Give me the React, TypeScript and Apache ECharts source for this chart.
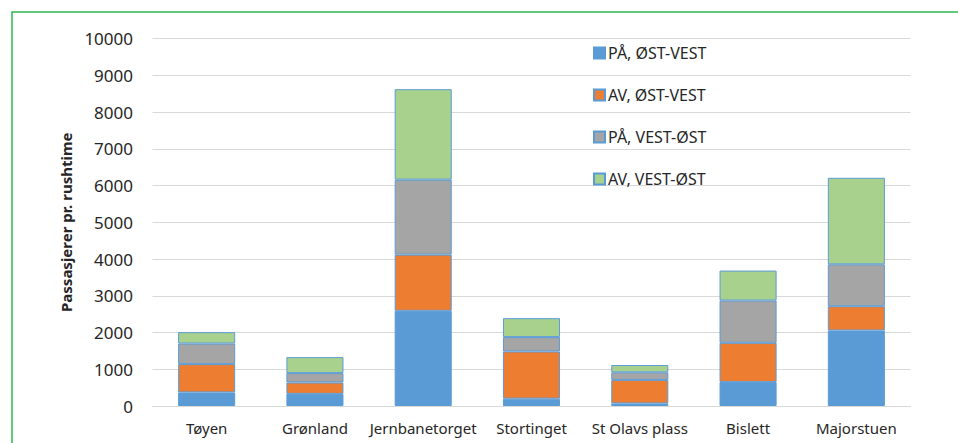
import React, { useEffect, useRef } from "react";
import * as echarts from "echarts";

const categories = ["Tøyen", "Grønland", "Jernbanetorget", "Stortinget", "St Olavs plass", "Bislett", "Majorstuen"];
const seriesNames = ["PÅ, ØST-VEST", "AV, ØST-VEST", "PÅ, VEST-ØST", "AV, VEST-ØST"];
const paOstVest = [370, 330, 2590, 200, 70, 650, 2055];
const avOstVest = [770, 310, 1530, 1285, 640, 1070, 660];
const paVestOst = [560, 255, 2040, 390, 205, 1150, 1140];
const avVestOst = [310, 435, 2460, 515, 200, 815, 2355];
const colors = ["#5B9BD5", "#ED7D31", "#A5A5A5", "#A9D18E"];
const yTicks = { min: 0, max: 10000, interval: 1000 };

export default function App() {
  const ref = useRef<HTMLDivElement>(null);
  useEffect(() => {
    if (!ref.current) return;
    const chart = echarts.init(ref.current, null, { renderer: "svg" });
    const data = [paOstVest, avOstVest, paVestOst, avVestOst];
    chart.setOption({
      animation: false,
      backgroundColor: "#ffffff",
      textStyle: { fontFamily: "Noto Sans" },
      grid: { left: 152.5, right: 47.5, top: 38.5, bottom: 37, containLabel: false },
      legend: {
        orient: "vertical",
        left: 588,
        top: 39,
        itemWidth: 11,
        itemHeight: 11,
        itemGap: 24,
        icon: "rect",
        textStyle: { fontSize: 16, color: "#262626", fontFamily: "Noto Sans", lineHeight: 18, padding: [0, 0, 0, -2] },
        data: seriesNames,
      },
      xAxis: {
        type: "category",
        data: categories,
        axisLine: { lineStyle: { color: "#D9D9D9", width: 1 } },
        axisTick: { show: false },
        axisLabel: { interval: 0, fontSize: 15, color: "#262626", margin: 14, fontFamily: "Noto Sans" },
      },
      yAxis: {
        type: "value",
        min: yTicks.min,
        max: yTicks.max,
        interval: yTicks.interval,
        name: "Passasjerer pr. rushtime",
        nameLocation: "middle",
        nameGap: 77.5,
        nameTextStyle: { fontSize: 15, fontWeight: "bold", color: "#262626", fontFamily: "Noto Sans" },
        axisLine: { show: false },
        axisTick: { show: false },
        axisLabel: { fontSize: 17, color: "#262626", margin: 19.5, fontFamily: "Noto Sans", formatter: (v: number) => String(v) },
        splitLine: { lineStyle: { color: "#D9D9D9", width: 1 } },
      },
      series: seriesNames.map((name, i) => ({
        name,
        type: "bar",
        stack: "total",
        barWidth: "52.7%",
        data: data[i],
        itemStyle: { color: colors[i], borderColor: "#5B9BD5", borderWidth: 1 },
      })),
      graphic: [
        {
          type: "rect",
          shape: { x: 12, y: 12, width: 952, height: 440 },
          style: { fill: "none", stroke: "#2DB84F", lineWidth: 1.5 },
          silent: true,
          z: 100,
        },
      ],
    });
    return () => chart.dispose();
  }, []);
  return <div ref={ref} style={{ position: "fixed", left: 0, top: 0, width: 958, height: 443 }} />;
}
